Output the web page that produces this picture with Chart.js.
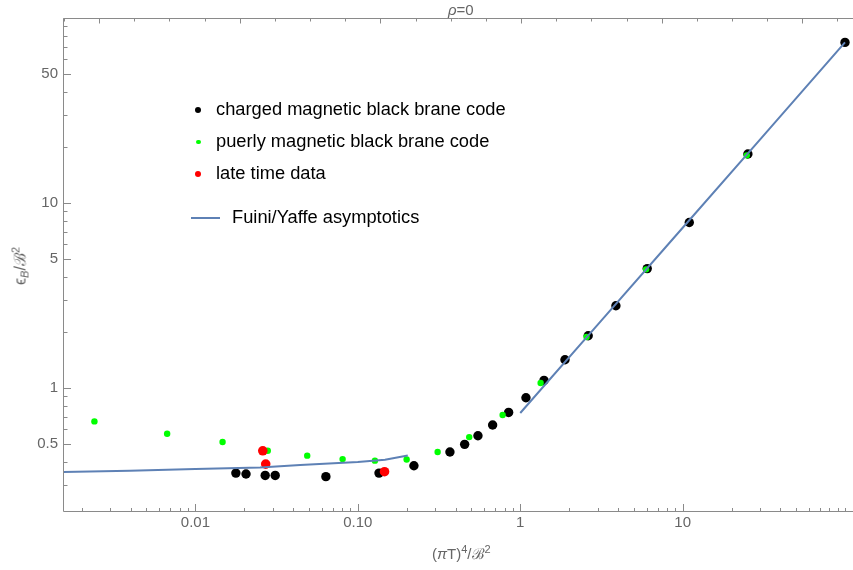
<!DOCTYPE html>
<html>
<head>
<meta charset="utf-8">
<script src="https://cdn.jsdelivr.net/npm/chart.js@4/dist/chart.umd.min.js"></script>
<style>
  body { margin: 0; background: #fff; }
  #wrap { position: relative; width: 853px; height: 570px; font-family: "Liberation Sans", Arial, sans-serif; }
  canvas { position: absolute; left: 0; top: 0; }
  .lbl { position: absolute; color: #666; font-size: 15px; line-height: 15px; white-space: nowrap; }
  .lbl sup { font-size: 11px; vertical-align: 6px; line-height: 0; }
  .lbl sub { font-size: 11px; vertical-align: -3px; line-height: 0; font-style: italic; }
  .leg { position: absolute; font-size: 18.3px; line-height: 20px; color: #000; white-space: nowrap; }
  .dot { position: absolute; border-radius: 50%; }
</style>
</head>
<body>
<div id="wrap">
  <canvas id="chart" width="853" height="570"></canvas>
  <div class="lbl" style="left:448px; top:2px;"><i>ρ</i>=0</div>
  <div class="lbl" style="left:432px; top:546px;">(<i>π</i>T)<sup>4</sup>/ℬ<sup>2</sup></div>
  <div class="lbl" style="left:20px; top:266px; font-size:16px; transform: translate(-50%, -50%) rotate(-90deg);">ϵ<sub>B</sub>/ℬ<sup>2</sup></div>

  <div class="dot" style="left:195px; top:107px; width:6px; height:6px; background:#000;"></div>
  <div class="leg" style="left:216px; top:99px;">charged magnetic black brane code</div>
  <div class="dot" style="left:196px; top:139.5px; width:4.5px; height:4.5px; background:#00ff00;"></div>
  <div class="leg" style="left:216px; top:131px;">puerly magnetic black brane code</div>
  <div class="dot" style="left:195px; top:171px; width:6px; height:6px; background:#ff0000;"></div>
  <div class="leg" style="left:216px; top:163px;">late time data</div>
  <div style="position:absolute; left:191px; top:217px; width:29px; height:2px; background:#5E81B5;"></div>
  <div class="leg" style="left:232px; top:207px;">Fuini/Yaffe asymptotics</div>
</div>
<script>
// charged magnetic black brane code
const chargedX = [0.01775, 0.0205, 0.0269, 0.031, 0.0636, 0.135, 0.2215, 0.369, 0.4546, 0.549, 0.676, 0.848, 1.084, 1.40, 1.885, 2.62, 3.88, 6.05, 10.98, 25.2, 99.8];
const chargedY = [0.347, 0.343, 0.337, 0.337, 0.332, 0.347, 0.380, 0.451, 0.496, 0.552, 0.631, 0.738, 0.886, 1.099, 1.422, 1.918, 2.786, 4.42, 7.85, 18.4, 73.8];

// puerly magnetic black brane code
const pureX = [0.00239, 0.0067, 0.0147, 0.0279, 0.0488, 0.0806, 0.1274, 0.1998, 0.310, 0.485, 0.779, 1.335, 2.56, 5.95, 24.8];
const pureY = [0.660, 0.566, 0.511, 0.458, 0.431, 0.413, 0.405, 0.411, 0.451, 0.543, 0.715, 1.064, 1.887, 4.38, 18.1];

// late time data
const lateX = [0.026, 0.0271, 0.146];
const lateY = [0.458, 0.388, 0.353];

// Fuini/Yaffe asymptotics, low and high temperature branches
const fyLowX = [0.00153, 0.00395, 0.01, 0.025, 0.0442, 0.1, 0.147, 0.203];
const fyLowY = [0.3515, 0.357, 0.365, 0.372, 0.384, 0.398, 0.410, 0.432];
const fyHighX = [1.0, 3.0, 10, 30, 99.8];
const fyHighY = [0.733, 2.2, 7.35, 22.1, 73.8];

// tick labels
const xTickValues = [0.01, 0.1, 1, 10];
const xTickText = ["0.01", "0.10", "1", "10"];
const yTickValues = [0.5, 1, 5, 10, 50];
const yTickText = ["0.5", "1", "5", "10", "50"];

const xMin = 0.001531, xMax = 111.8;
const yMin = 0.2178, yMax = 100;
const frameColor = "#8a8a8a";
const fontFamily = '"Liberation Sans", Arial, sans-serif';

const pts = (xs, ys) => xs.map((x, i) => ({ x: x, y: ys[i] }));

// 1..9 x 10^n inside the range
function logTicks(lo, hi) {
  const out = [];
  for (let e = Math.floor(Math.log10(lo)); e <= Math.ceil(Math.log10(hi)); e++) {
    for (let m = 1; m < 10; m++) {
      const v = +(m * Math.pow(10, e)).toPrecision(6);
      if (v >= lo && v <= hi) out.push(v);
    }
  }
  return out;
}

function labelFor(values, texts) {
  return (v) => {
    const i = values.findIndex(t => Math.abs(t - v) / t < 1e-6);
    return i >= 0 ? texts[i] : "";
  };
}

const frameTicks = {
  id: "frameTicks",
  afterDraw(chart) {
    const { ctx, chartArea: a, scales: { x, y } } = chart;
    ctx.save();
    ctx.strokeStyle = frameColor;
    ctx.lineWidth = 1;
    ctx.beginPath();
    const L = Math.round(a.left) + 0.5, B = Math.round(a.bottom) + 0.5, T = Math.round(a.top) + 0.5;
    ctx.moveTo(L, B); ctx.lineTo(L, T); ctx.lineTo(a.right, T);
    ctx.moveTo(L, B); ctx.lineTo(a.right, B);
    x.ticks.forEach(t => {
      const px = Math.round(x.getPixelForValue(t.value)) + 0.5;
      const len = t.label ? 7.5 : 3.5;
      ctx.moveTo(px, B); ctx.lineTo(px, B - len);
    });
    y.ticks.forEach(t => {
      const py = Math.round(y.getPixelForValue(t.value)) + 0.5;
      const len = t.label ? 7.5 : 4;
      ctx.moveTo(L, py); ctx.lineTo(L + len, py);
    });
    // top frame carries its own evenly spaced ticks
    const origin = 0.8707, step = 0.21644;
    for (let k = -20; k <= 10; k++) {
      const v = Math.pow(10, origin + k * step);
      if (v < xMin || v > xMax) continue;
      const px = Math.round(x.getPixelForValue(v)) + 0.5;
      const len = k % 4 === 0 ? 5 : 3;
      ctx.moveTo(px, T); ctx.lineTo(px, T + len);
    }
    ctx.stroke();
    ctx.restore();
  }
};

new Chart(document.getElementById("chart"), {
  type: "scatter",
  data: {
    datasets: [
      {
        label: "Fuini/Yaffe asymptotics",
        data: pts(fyLowX, fyLowY),
        showLine: true,
        borderColor: "#5E81B5",
        borderWidth: 2,
        pointRadius: 0,
        order: 1,
      },
      {
        label: "Fuini/Yaffe asymptotics (high)",
        data: pts(fyHighX, fyHighY),
        showLine: true,
        borderColor: "#5E81B5",
        borderWidth: 2,
        pointRadius: 0,
        order: 1,
      },
      {
        label: "late time data",
        data: pts(lateX, lateY),
        backgroundColor: "#ff0000",
        pointRadius: 4.8,
        pointBorderWidth: 0,
        order: 2,
      },
      {
        label: "puerly magnetic black brane code",
        data: pts(pureX, pureY),
        backgroundColor: "#00ff00",
        pointRadius: 3.2,
        pointBorderWidth: 0,
        order: 3,
      },
      {
        label: "charged magnetic black brane code",
        data: pts(chargedX, chargedY),
        backgroundColor: "#000000",
        pointRadius: 4.7,
        pointBorderWidth: 0,
        order: 4,
      },
    ],
  },
  options: {
    responsive: false,
    animation: false,
    layout: { autoPadding: false, padding: { top: 18, left: 0, right: 0, bottom: 0 } },
    plugins: {
      legend: { display: false },
      tooltip: { enabled: false },
    },
    scales: {
      x: {
        type: "logarithmic",
        min: xMin,
        max: xMax,
        grid: { display: false, drawTicks: false },
        border: { display: false },
        afterBuildTicks: (s) => { s.ticks = logTicks(xMin, xMax).map(v => ({ value: v })); },
        afterFit: (s) => { s.height = 59.5; s.paddingLeft = 0; s.paddingRight = 0; },
        ticks: {
          autoSkip: false,
          maxRotation: 0,
          padding: 3,
          color: "#666",
          font: { size: 15, family: fontFamily },
          callback: labelFor(xTickValues, xTickText),
        },
      },
      y: {
        type: "logarithmic",
        min: yMin,
        max: yMax,
        grid: { display: false, drawTicks: false },
        border: { display: false },
        afterBuildTicks: (s) => { s.ticks = logTicks(yMin, yMax).map(v => ({ value: v })); },
        afterFit: (s) => { s.width = 63; s.paddingTop = 0; s.paddingBottom = 0; },
        ticks: {
          autoSkip: false,
          padding: 5,
          color: "#666",
          font: { size: 15, family: fontFamily },
          callback: labelFor(yTickValues, yTickText),
        },
      },
    },
  },
  plugins: [frameTicks],
});
</script>
</body>
</html>
